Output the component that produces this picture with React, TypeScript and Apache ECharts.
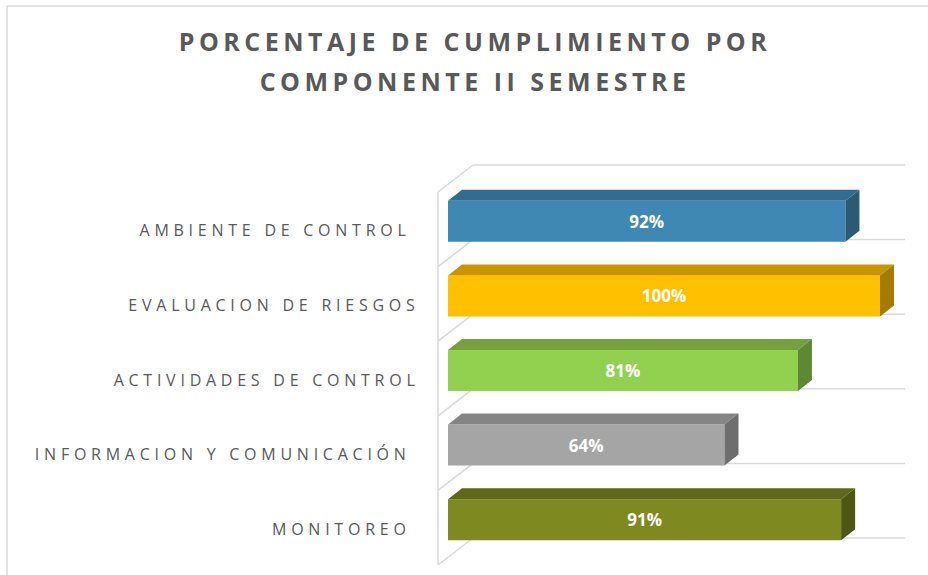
import React, { useEffect, useRef } from "react";
import * as echarts from "echarts";

const titleLines = ["PORCENTAJE DE CUMPLIMIENTO POR", "COMPONENTE II SEMESTRE"];
const categories = [
  "AMBIENTE DE CONTROL ",
  "EVALUACION DE RIESGOS",
  "ACTIVIDADES DE CONTROL",
  "INFORMACION Y COMUNICACIÓN ",
  "MONITOREO ",
];
const values = [92, 100, 81, 64, 91];
const frontColors = ["#3F88B3", "#FFC000", "#92D050", "#A5A5A5", "#7E8A1F"];
const topColors = ["#336C8F", "#C79600", "#72A13E", "#858585", "#5F6818"];
const sideColors = ["#2B5A77", "#A57C00", "#5E8833", "#6E6E6E", "#4E5613"];
const xMin = 0;
const xMax = 100;

const GRID_COLOR = "#D9D9D9";
const TEXT_COLOR = "#595959";
const FONT = "'Open Sans', 'Noto Sans', sans-serif";
const BAR_W = 41;
// 3D depth offsets
const BACK_DX = 25;
const BACK_DY = -19;
const FRONT_DX = -10;
const FRONT_DY = 8;
const BAR_DX = 14;
const BAR_DY = -11;

const TITLE_SPACING = "4.5";
const LABEL_SPACING = "4.75";

function applySpacing(root: HTMLElement) {
  root.querySelectorAll("text").forEach((t) => {
    const s = t.textContent || "";
    (t as SVGTextElement).style.whiteSpace = "pre";
    if (titleLines.includes(s)) t.setAttribute("letter-spacing", TITLE_SPACING);
    else if (categories.includes(s)) t.setAttribute("letter-spacing", LABEL_SPACING);
  });
}

export default function App() {
  const ref = useRef<HTMLDivElement>(null);

  useEffect(() => {
    const el = ref.current!;
    const chart = echarts.init(el, undefined, { renderer: "svg" });

    const option: any = {
      animation: false,
      backgroundColor: "#FFFFFF",
      title: {
        text: titleLines.join("\n"),
        left: 475,
        top: 21,
        padding: 0,
        textAlign: "center",
        textStyle: {
          fontFamily: FONT,
          fontWeight: "bold",
          fontSize: 25,
          color: TEXT_COLOR,
          lineHeight: 40,
        },
      },
      graphic: [
        {
          type: "line",
          shape: { x1: 7, y1: 6, x2: 928, y2: 6 },
          style: { stroke: GRID_COLOR, lineWidth: 1.5 },
          silent: true,
        },
        {
          type: "line",
          shape: { x1: 7, y1: 6, x2: 7, y2: 575 },
          style: { stroke: GRID_COLOR, lineWidth: 1.5 },
          silent: true,
        },
      ],
      grid: {
        left: 448,
        right: 48,
        top: 184,
        bottom: 18,
        containLabel: false,
        outerBoundsMode: "none",
      },
      xAxis: {
        type: "value",
        min: xMin,
        max: xMax,
        show: false,
      },
      yAxis: {
        type: "category",
        inverse: true,
        data: categories,
        axisLine: { show: false },
        axisTick: { show: false },
        splitLine: { show: false },
        axisLabel: {
          color: TEXT_COLOR,
          fontFamily: FONT,
          fontSize: 16,
          margin: 28.5,
          verticalAlign: "top",
          lineHeight: 18,
        },
      },
      series: [
        {
          type: "custom",
          name: "floor",
          silent: true,
          z: 1,
          data: categories.map((_, i) => [xMin, i]),
          renderItem: (params: any, api: any) => {
            const i = api.value(1) as number;
            const band = api.size([0, 1])[1];
            const c = api.coord([xMin, i]);
            const x0 = c[0];
            const x1 = api.coord([xMax, i])[0];
            const top = c[1] - band / 2;
            const bottom = c[1] + band / 2;
            const style = { stroke: GRID_COLOR, lineWidth: 1.5, fill: null };
            const ys = [top];
            if (i === categories.length - 1) ys.push(bottom);
            const children: any[] = [];
            ys.forEach((y) => {
              children.push({
                type: "line",
                shape: { x1: x0 + BACK_DX, y1: y + BACK_DY, x2: x1 + BACK_DX, y2: y + BACK_DY },
                style,
              });
              children.push({
                type: "line",
                shape: { x1: x0 + FRONT_DX, y1: y + FRONT_DY, x2: x0 + BACK_DX, y2: y + BACK_DY },
                style,
              });
            });
            children.push({
              type: "line",
              shape: { x1: x0 + FRONT_DX, y1: top + FRONT_DY, x2: x0 + FRONT_DX, y2: bottom + FRONT_DY },
              style,
            });
            return { type: "group", children };
          },
        },
        {
          type: "bar",
          name: "cumplimiento",
          z: 2,
          barWidth: BAR_W,
          data: values.map((v, i) => ({
            value: v,
            itemStyle: { color: frontColors[i] },
          })),
          label: {
            show: true,
            position: "inside",
            formatter: "{c}%",
            color: "#FFFFFF",
            fontFamily: FONT,
            fontWeight: "bold",
            fontSize: 17,
          },
        },
        {
          type: "custom",
          name: "faces",
          silent: true,
          z: 3,
          data: values.map((v, i) => [v, i]),
          renderItem: (params: any, api: any) => {
            const v = api.value(0) as number;
            const i = api.value(1) as number;
            const idx = params.dataIndex;
            const c = api.coord([v, i]);
            const c0 = api.coord([xMin, i]);
            const yt = c[1] - BAR_W / 2;
            const yb = c[1] + BAR_W / 2;
            return {
              type: "group",
              children: [
                {
                  type: "polygon",
                  shape: {
                    points: [
                      [c0[0], yt],
                      [c[0], yt],
                      [c[0] + BAR_DX, yt + BAR_DY],
                      [c0[0] + BAR_DX, yt + BAR_DY],
                    ],
                  },
                  style: { fill: topColors[idx] },
                },
                {
                  type: "polygon",
                  shape: {
                    points: [
                      [c[0], yt],
                      [c[0] + BAR_DX, yt + BAR_DY],
                      [c[0] + BAR_DX, yb + BAR_DY],
                      [c[0], yb],
                    ],
                  },
                  style: { fill: sideColors[idx] },
                },
              ],
            };
          },
        },
      ],
    };

    chart.setOption(option);
    applySpacing(el);
    const onFinished = () => applySpacing(el);
    chart.on("finished", onFinished);
    const raf = requestAnimationFrame(() => applySpacing(el));

    return () => {
      cancelAnimationFrame(raf);
      chart.off("finished", onFinished);
      chart.dispose();
    };
  }, []);

  return (
    <div
      ref={ref}
      style={{ position: "absolute", left: 0, top: 0, width: 928, height: 575 }}
    />
  );
}
